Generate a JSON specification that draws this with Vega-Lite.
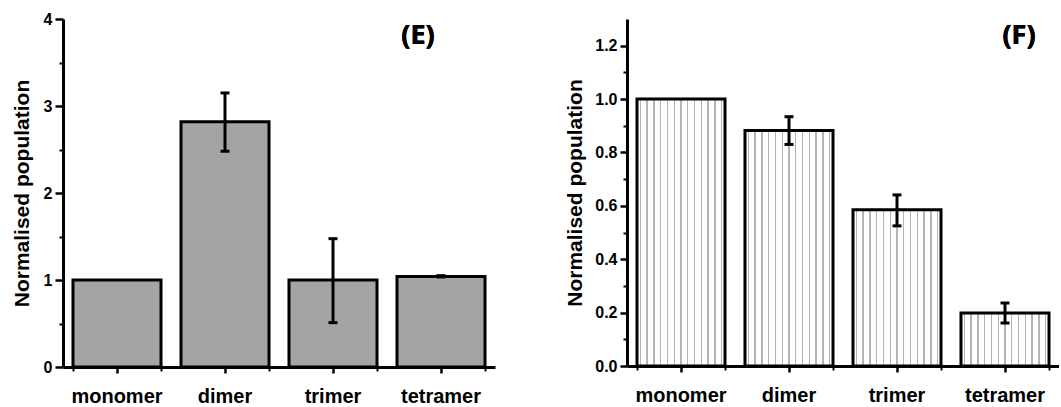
{
  "$schema": "https://vega.github.io/schema/vega-lite/v6.json",
  "padding": {"left": 11, "top": 11, "right": 0, "bottom": 0},
  "config": {
    "view": {"stroke": null},
    "font": "Liberation Sans",
    "concat": {"spacing": 69},
    "axis": {
      "domainColor": "black", "domainWidth": 3, "tickColor": "black", "tickWidth": 2.5,
      "labelColor": "black", "labelFont": "Liberation Sans", "labelFontWeight": "bold",
      "titleColor": "black", "titleFont": "Liberation Sans", "titleFontWeight": "bold", "grid": false
    }
  },
  "datasets": {
    "E": [
      {"cat": "monomer", "value": 1.0, "lo": null, "hi": null},
      {"cat": "dimer", "value": 2.82, "lo": 2.48, "hi": 3.15},
      {"cat": "trimer", "value": 1.0, "lo": 0.51, "hi": 1.475},
      {"cat": "tetramer", "value": 1.04, "lo": 1.035, "hi": 1.05}
    ],
    "F": [
      {"cat": "monomer", "value": 1.0, "lo": null, "hi": null},
      {"cat": "dimer", "value": 0.882, "lo": 0.83, "hi": 0.934},
      {"cat": "trimer", "value": 0.585, "lo": 0.525, "hi": 0.641},
      {"cat": "tetramer", "value": 0.199, "lo": 0.161, "hi": 0.236}
    ]
  },
  "hconcat": [
    {
      "width": 432, "height": 348,
      "data": {"name": "E"},
      "resolve": {"axis": {"x": "independent", "y": "independent"}},
      "layer": [
        {
          "mark": {"type": "bar", "fill": "#a4a4a4", "stroke": "black", "strokeWidth": 3},
          "encoding": {
            "x": {"field": "cat", "type": "nominal", "sort": ["monomer", "dimer", "trimer", "tetramer"],
                  "scale": {"paddingInner": 0.185, "paddingOuter": 0.0925},
                  "axis": {"title": null, "labelAngle": 0, "labelFontSize": 20, "tickSize": 6, "labelPadding": 13, "orient": "bottom"}},
            "y": {"field": "value", "type": "quantitative", "scale": {"domain": [0, 4], "nice": false},
                  "axis": {"title": "Normalised population", "values": [0, 1, 2, 3, 4], "format": "d", "labelFontSize": 16, "titleFontSize": 21, "tickSize": 8, "labelPadding": 3, "titlePadding": 11, "orient": "left"}}
          }
        },
        {
          "mark": {"type": "rule", "strokeWidth": 3, "color": "black"},
          "encoding": {
            "x": {"field": "cat", "type": "nominal", "sort": ["monomer", "dimer", "trimer", "tetramer"],
                  "axis": {"title": null, "labels": false, "domain": false, "tickBand": "extent", "tickSize": 4, "tickWidth": 2, "orient": "bottom"}},
            "y": {"field": "lo", "type": "quantitative",
                  "axis": {"title": null, "labels": false, "domain": false, "values": [0.5, 1.5, 2.5, 3.5], "tickSize": 4, "tickWidth": 2, "orient": "left"}},
            "y2": {"field": "hi"}
          }
        },
        {
          "mark": {"type": "tick", "thickness": 3, "size": 9, "color": "black", "opacity": 1},
          "encoding": {
            "x": {"field": "cat", "type": "nominal", "sort": ["monomer", "dimer", "trimer", "tetramer"], "axis": null},
            "y": {"field": "lo", "type": "quantitative", "axis": null}
          }
        },
        {
          "mark": {"type": "tick", "thickness": 3, "size": 9, "color": "black", "opacity": 1},
          "encoding": {
            "x": {"field": "cat", "type": "nominal", "sort": ["monomer", "dimer", "trimer", "tetramer"], "axis": null},
            "y": {"field": "hi", "type": "quantitative", "axis": null}
          }
        },
        {
          "mark": {"type": "text", "text": "(E)", "font": "Open Sans", "fontSize": 27, "fontWeight": "bold", "color": "black", "baseline": "middle", "align": "center", "dx": -23},
          "encoding": {
            "x": {"datum": "tetramer", "type": "nominal", "axis": null},
            "y": {"datum": 3.8, "type": "quantitative", "axis": null}
          }
        }
      ]
    },
    {
      "width": 432, "height": 347,
      "data": {"name": "F"},
      "resolve": {"axis": {"x": "independent", "y": "independent"}},
      "layer": [
        {
          "mark": {"type": "bar", "stroke": "black", "strokeWidth": 3,
            "fill": {"gradient": "linear", "x1": 0, "y1": 0, "x2": 1, "y2": 0, "stops": [
              {"offset": 0, "color": "#ffffff"},
              {"offset": 0.031, "color": "#ffffff"}, {"offset": 0.031, "color": "#b4b4b4"}, {"offset": 0.046, "color": "#b4b4b4"}, {"offset": 0.046, "color": "#ffffff"},
              {"offset": 0.108, "color": "#ffffff"}, {"offset": 0.108, "color": "#b4b4b4"}, {"offset": 0.123, "color": "#b4b4b4"}, {"offset": 0.123, "color": "#ffffff"},
              {"offset": 0.185, "color": "#ffffff"}, {"offset": 0.185, "color": "#b4b4b4"}, {"offset": 0.200, "color": "#b4b4b4"}, {"offset": 0.200, "color": "#ffffff"},
              {"offset": 0.262, "color": "#ffffff"}, {"offset": 0.262, "color": "#b4b4b4"}, {"offset": 0.277, "color": "#b4b4b4"}, {"offset": 0.277, "color": "#ffffff"},
              {"offset": 0.339, "color": "#ffffff"}, {"offset": 0.339, "color": "#b4b4b4"}, {"offset": 0.354, "color": "#b4b4b4"}, {"offset": 0.354, "color": "#ffffff"},
              {"offset": 0.416, "color": "#ffffff"}, {"offset": 0.416, "color": "#b4b4b4"}, {"offset": 0.431, "color": "#b4b4b4"}, {"offset": 0.431, "color": "#ffffff"},
              {"offset": 0.492, "color": "#ffffff"}, {"offset": 0.492, "color": "#b4b4b4"}, {"offset": 0.508, "color": "#b4b4b4"}, {"offset": 0.508, "color": "#ffffff"},
              {"offset": 0.569, "color": "#ffffff"}, {"offset": 0.569, "color": "#b4b4b4"}, {"offset": 0.585, "color": "#b4b4b4"}, {"offset": 0.585, "color": "#ffffff"},
              {"offset": 0.646, "color": "#ffffff"}, {"offset": 0.646, "color": "#b4b4b4"}, {"offset": 0.662, "color": "#b4b4b4"}, {"offset": 0.662, "color": "#ffffff"},
              {"offset": 0.723, "color": "#ffffff"}, {"offset": 0.723, "color": "#b4b4b4"}, {"offset": 0.739, "color": "#b4b4b4"}, {"offset": 0.739, "color": "#ffffff"},
              {"offset": 0.800, "color": "#ffffff"}, {"offset": 0.800, "color": "#b4b4b4"}, {"offset": 0.816, "color": "#b4b4b4"}, {"offset": 0.816, "color": "#ffffff"},
              {"offset": 0.877, "color": "#ffffff"}, {"offset": 0.877, "color": "#b4b4b4"}, {"offset": 0.893, "color": "#b4b4b4"}, {"offset": 0.893, "color": "#ffffff"},
              {"offset": 0.954, "color": "#ffffff"}, {"offset": 0.954, "color": "#b4b4b4"}, {"offset": 0.969, "color": "#b4b4b4"}, {"offset": 0.969, "color": "#ffffff"},
              {"offset": 1, "color": "#ffffff"}
            ]}},
          "encoding": {
            "x": {"field": "cat", "type": "nominal", "sort": ["monomer", "dimer", "trimer", "tetramer"],
                  "scale": {"paddingInner": 0.185, "paddingOuter": 0.0925},
                  "axis": {"title": null, "labelAngle": 0, "labelFontSize": 20, "tickSize": 6, "labelPadding": 13, "orient": "bottom"}},
            "y": {"field": "value", "type": "quantitative", "scale": {"domain": [0, 1.3], "nice": false},
                  "axis": {"title": "Normalised population", "values": [0, 0.2, 0.4, 0.6, 0.8, 1.0, 1.2], "format": ".1f", "labelFontSize": 16, "titleFontSize": 21, "tickSize": 7, "labelPadding": 3, "titlePadding": 9, "orient": "left"}}
          }
        },
        {
          "mark": {"type": "rule", "strokeWidth": 3, "color": "black"},
          "encoding": {
            "x": {"field": "cat", "type": "nominal", "sort": ["monomer", "dimer", "trimer", "tetramer"],
                  "axis": {"title": null, "labels": false, "domain": false, "tickBand": "extent", "tickSize": 4, "tickWidth": 2, "orient": "bottom"}},
            "y": {"field": "lo", "type": "quantitative",
                  "axis": {"title": null, "labels": false, "domain": false, "values": [0.1, 0.3, 0.5, 0.7, 0.9, 1.1], "tickSize": 4, "tickWidth": 2, "orient": "left"}},
            "y2": {"field": "hi"}
          }
        },
        {
          "mark": {"type": "tick", "thickness": 3, "size": 9, "color": "black", "opacity": 1},
          "encoding": {
            "x": {"field": "cat", "type": "nominal", "sort": ["monomer", "dimer", "trimer", "tetramer"], "axis": null},
            "y": {"field": "lo", "type": "quantitative", "axis": null}
          }
        },
        {
          "mark": {"type": "tick", "thickness": 3, "size": 9, "color": "black", "opacity": 1},
          "encoding": {
            "x": {"field": "cat", "type": "nominal", "sort": ["monomer", "dimer", "trimer", "tetramer"], "axis": null},
            "y": {"field": "hi", "type": "quantitative", "axis": null}
          }
        },
        {
          "mark": {"type": "text", "text": "(F)", "font": "Open Sans", "fontSize": 27, "fontWeight": "bold", "color": "black", "baseline": "middle", "align": "center", "dx": 14},
          "encoding": {
            "x": {"datum": "tetramer", "type": "nominal", "axis": null},
            "y": {"datum": 1.237, "type": "quantitative", "axis": null}
          }
        }
      ]
    }
  ]
}
